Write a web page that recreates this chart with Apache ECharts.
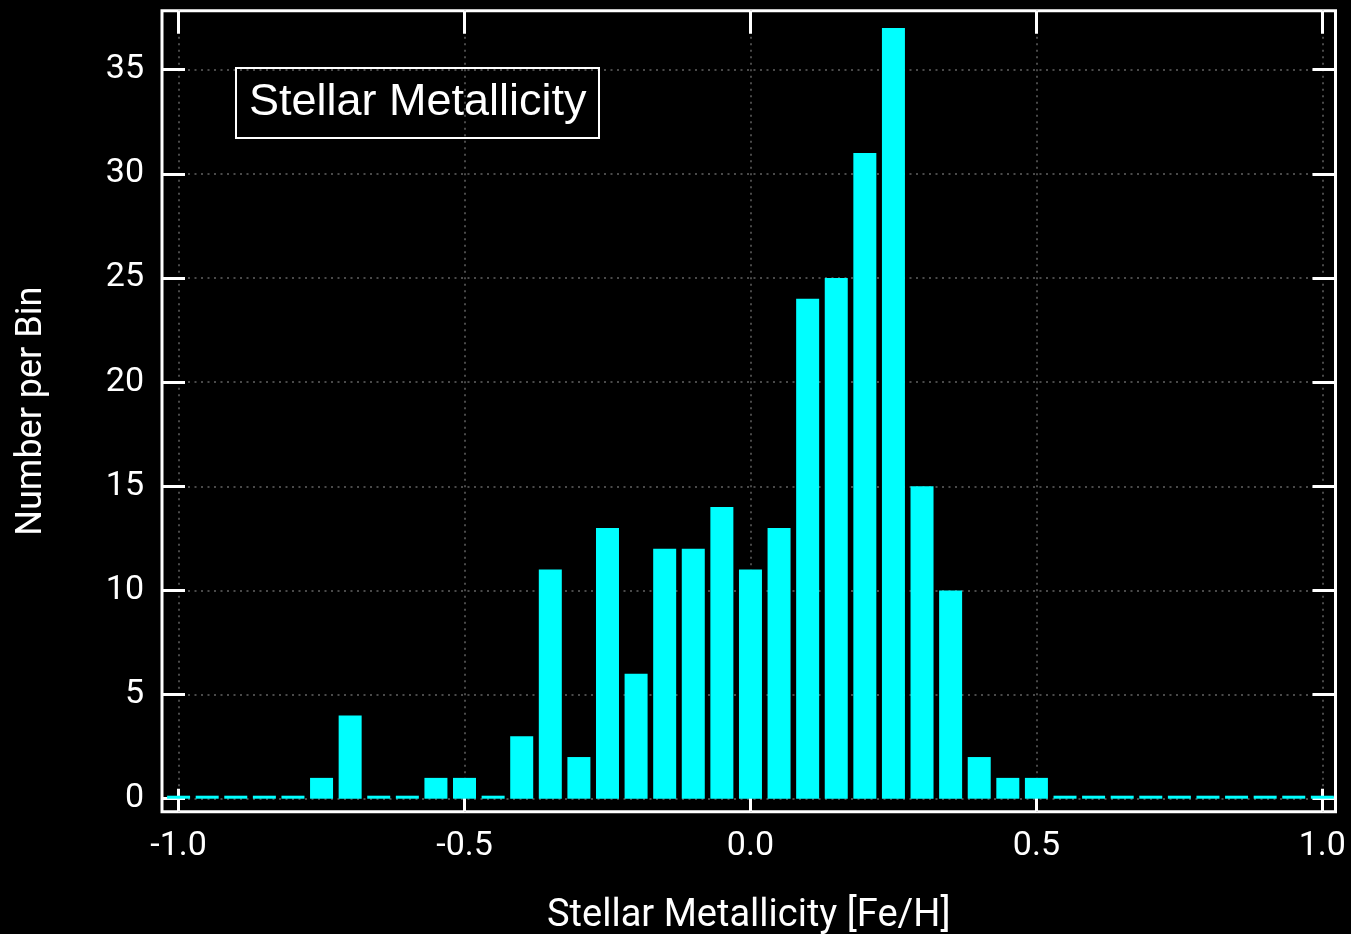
<!DOCTYPE html>
<html>
<head>
<meta charset="utf-8">
<title>Stellar Metallicity</title>
<script src="https://cdn.jsdelivr.net/npm/echarts@6/dist/echarts.min.js"></script>
<style>
	html, body { margin: 0; padding: 0; background: #000; }
	#chart-container { width: 1351px; height: 934px; }
</style>
</head>
<body>
<div id="chart-container"></div>
<script>
// histogram bins (centre of each bin, [Fe/H])
const binCenters = [
	-1.00, -0.95, -0.90, -0.85, -0.80, -0.75, -0.70, -0.65, -0.60, -0.55,
	-0.50, -0.45, -0.40, -0.35, -0.30, -0.25, -0.20, -0.15, -0.10, -0.05,
	0.00, 0.05, 0.10, 0.15, 0.20, 0.25, 0.30, 0.35, 0.40, 0.45,
	0.50, 0.55, 0.60, 0.65, 0.70, 0.75, 0.80, 0.85, 0.90, 0.95,
	1.00
];
// stars per bin
const binCounts = [
	0, 0, 0, 0, 0, 1, 4, 0, 0, 1,
	1, 0, 3, 11, 2, 13, 6, 12, 12, 14,
	11, 13, 24, 25, 31, 37, 15, 10, 2, 1,
	1, 0, 0, 0, 0, 0, 0, 0, 0, 0,
	0
];
const xTicks = [-1.0, -0.5, 0.0, 0.5, 1.0];
const yTicks = [0, 5, 10, 15, 20, 25, 30, 35];

function initializeChart() {
	const chartDom = document.getElementById('chart-container');
	const myChart = echarts.init(chartDom);

	const tickFont = { fontFamily: 'Roboto', fontSize: 34, color: '#fff' };
	const gridLine = { show: true, lineStyle: { color: '#4a4a4a', width: 2, type: [2, 4.5] } };
	const tickStyle = { show: true, inside: true, length: 23, lineStyle: { color: '#fff', width: 3 } };
	const noLine = { show: false, onZero: false }; // frame comes from the grid border

	const option = {
		backgroundColor: '#000',
		animation: false,
		title: {
			text: 'Stellar Metallicity',
			left: 236,
			top: 68,
			padding: [12, 13],
			borderColor: '#fff',
			borderWidth: 2,
			textStyle: {
				fontFamily: 'Liberation Sans',
				fontSize: 45,
				lineHeight: 46,
				fontWeight: 'normal',
				color: '#fff'
			}
		},
		grid: {
			left: 162,
			right: 15.5,
			top: 10.7,
			bottom: 122.3,
			show: true,
			borderColor: '#fff',
			borderWidth: 3,
			containLabel: false,
			outerBoundsMode: 'none'
		},
		xAxis: [
			{
				type: 'value',
				min: -1.029,
				max: 1.023,
				axisLine: noLine,
				axisTick: Object.assign({ customValues: xTicks }, tickStyle),
				axisLabel: Object.assign({
					customValues: xTicks,
					margin: 18,
					formatter: v => v.toFixed(1)
				}, tickFont),
				splitLine: gridLine,
				name: 'Stellar Metallicity [Fe/H]',
				nameLocation: 'middle',
				nameGap: 86,
				nameTextStyle: { fontFamily: 'Roboto', fontSize: 38, color: '#fff' }
			},
			{
				type: 'value',
				position: 'top',
				min: -1.029,
				max: 1.023,
				axisLine: noLine,
				axisTick: Object.assign({ customValues: xTicks }, tickStyle),
				axisLabel: { show: false },
				splitLine: { show: false }
			}
		],
		yAxis: [
			{
				type: 'value',
				min: -0.624,
				max: 37.83,
				axisLine: noLine,
				axisTick: Object.assign({ customValues: yTicks }, tickStyle),
				axisLabel: Object.assign({
					customValues: yTicks,
					margin: 18
				}, tickFont),
				splitLine: gridLine,
				name: 'Number per Bin',
				nameLocation: 'middle',
				nameGap: 112,
				nameTextStyle: { fontFamily: 'Roboto', fontSize: 36, color: '#fff' }
			},
			{
				type: 'value',
				position: 'right',
				min: -0.624,
				max: 37.83,
				axisLine: noLine,
				axisTick: Object.assign({ customValues: yTicks }, tickStyle),
				axisLabel: { show: false },
				splitLine: { show: false }
			}
		],
		series: [{
			type: 'bar',
			xAxisIndex: 0,
			yAxisIndex: 0,
			data: binCenters.map((b, i) => [b, binCounts[i]]),
			barWidth: 23,
			barMinHeight: 3, // empty bins show as a flat line, like the original
			itemStyle: { color: '#00ffff' }
		}]
	};

	myChart.setOption(option);
}

initializeChart();
</script>
</body>
</html>
